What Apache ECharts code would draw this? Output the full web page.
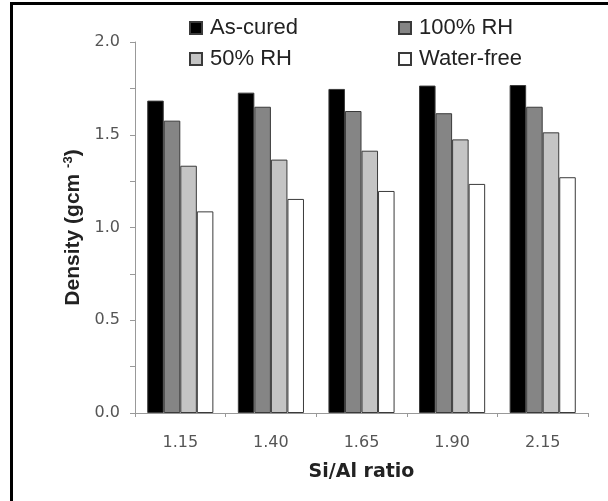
<!DOCTYPE html>
<html>
<head>
<meta charset="utf-8">
<script src="https://cdn.jsdelivr.net/npm/echarts@6/dist/echarts.min.js"></script>
<style>
html,body{margin:0;padding:0;background:#fff;}
#frame{position:absolute;left:10px;top:2px;width:620px;height:520px;border:3px solid #000;box-sizing:border-box;}
#chart{position:absolute;left:0;top:0;width:608px;height:501px;}
</style>
</head>
<body>
<div id="frame"></div>
<div id="chart"></div>
<script>
var categories = ['1.15', '1.40', '1.65', '1.90', '2.15'];
var seriesNames = ['As-cured', '100% RH', '50% RH', 'Water-free'];
var asCured = [1.684, 1.727, 1.747, 1.765, 1.768];
var rh100 = [1.576, 1.651, 1.628, 1.616, 1.651];
var rh50 = [1.333, 1.366, 1.414, 1.475, 1.513];
var waterFree = [1.087, 1.154, 1.197, 1.235, 1.271];
var seriesValues = [asCured, rh100, rh50, waterFree];
var colors = ['#000000', '#858585', '#c4c4c4', '#ffffff'];

var chart = echarts.init(document.getElementById('chart'), null, {renderer: 'canvas'});
var font = "'Liberation Sans', Arial, sans-serif";
var wide = "'DejaVu Sans', sans-serif";

var legendPos = [[184, 12], [393, 12], [184, 43], [393, 43]];
var legends = seriesNames.map(function (n, i) {
  return {
    data: [n], left: legendPos[i][0], top: legendPos[i][1],
    icon: 'rect', itemWidth: 12, itemHeight: 12, itemGap: 0,
    textStyle: {fontFamily: font, fontSize: 22, color: '#222', padding: [0, 0, 0, 3]},
    selectedMode: false
  };
});

var option = {
  backgroundColor: 'transparent',
  animation: false,
  legend: legends,
  grid: {left: 135, right: 20, top: 42, bottom: 88, containLabel: false},
  xAxis: {
    type: 'category', data: categories,
    axisLine: {lineStyle: {color: '#999', width: 1}},
    axisTick: {show: true, length: 4, lineStyle: {color: '#999'}},
    axisLabel: {fontFamily: wide, fontSize: 16, color: '#555', margin: 22},
    name: 'Si/Al ratio', nameLocation: 'middle', nameGap: 50,
    nameTextStyle: {fontFamily: wide, fontSize: 19, fontWeight: 'bold', color: '#222'}
  },
  yAxis: {
    type: 'value', min: 0, max: 2, interval: 0.25,
    splitLine: {show: false},
    axisLine: {show: true, lineStyle: {color: '#999', width: 1}},
    axisTick: {show: true, length: 5, lineStyle: {color: '#999'}},
    axisLabel: {
      fontFamily: wide, fontSize: 16, color: '#555', margin: 15,
      formatter: function (v) { return (Math.abs(v * 2 - Math.round(v * 2)) < 1e-6) ? v.toFixed(1) : ''; }
    },
    name: 'Density (gcm {sup|-3})', nameLocation: 'middle', nameGap: 38,
    nameTextStyle: {
      fontFamily: font, fontSize: 21, fontWeight: 'bold', color: '#222',
      rich: {sup: {fontFamily: font, fontSize: 13, fontWeight: 'bold', color: '#222', verticalAlign: 'top', padding: [0, 0, 10, 0]}}
    }
  },
  series: seriesNames.map(function (n, i) {
    return {
      name: n, type: 'bar', data: seriesValues[i],
      barGap: '0%', barCategoryGap: '27%',
      itemStyle: {color: colors[i], borderColor: '#3a3a3a', borderWidth: 1},
      emphasis: {disabled: true}
    };
  })
};
chart.setOption(option);
</script>
</body>
</html>
